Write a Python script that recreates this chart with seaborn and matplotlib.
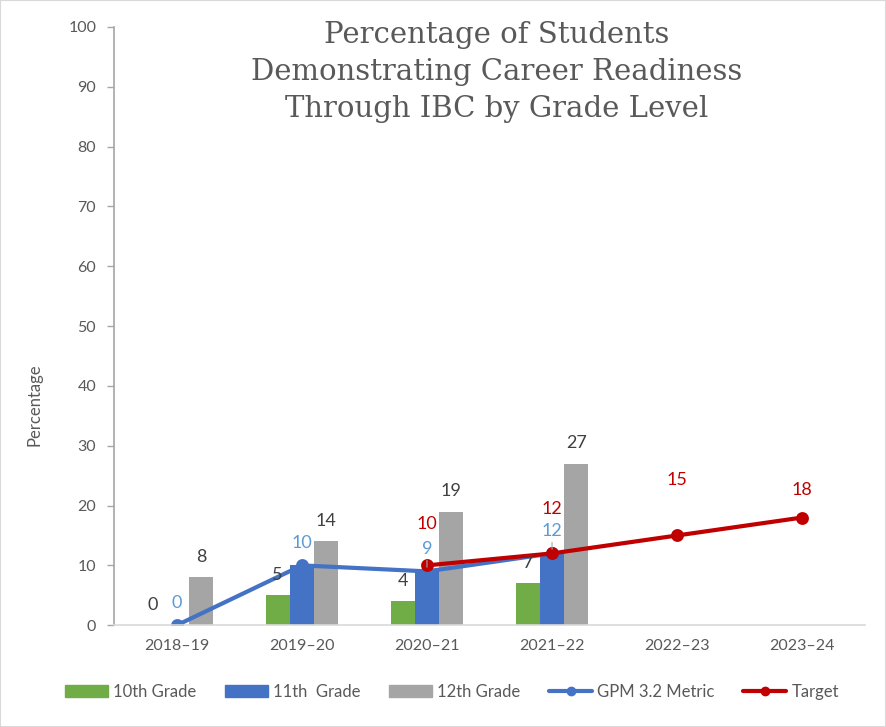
import matplotlib
matplotlib.use('Agg')
import matplotlib.pyplot as plt
import seaborn as sns
import pandas as pd
from matplotlib.patches import Patch, Rectangle
from matplotlib.lines import Line2D

# data
years = ['2018–19', '2019–20', '2020–21', '2021–22', '2022–23', '2023–24']
grades = ['10th Grade', '11th  Grade', '12th Grade']
grade10 = [0, 5, 4, 7]
grade11 = [0, 10, 9, 12]
grade12 = [8, 14, 19, 27]
gpm_years = years[:4]
gpm = [0, 10, 9, 12]
target_years = years[2:]
target = [10, 12, 15, 18]

bar_colors = ['#70AD47', '#4472C4', '#A5A5A5']
gpm_color = '#4472C4'
target_color = '#C00000'
text_gray = '#595959'

bars = pd.DataFrame({
    'year': gpm_years * 3,
    'grade': [grades[0]] * 4 + [grades[1]] * 4 + [grades[2]] * 4,
    'value': grade10 + grade11 + grade12,
})
gpm_df = pd.DataFrame({'year': gpm_years, 'value': gpm})
target_df = pd.DataFrame({'year': target_years, 'value': target})

sns.set_style('white')
plt.rcParams['font.family'] = ['Lato', 'DejaVu Sans']

fig = plt.figure(figsize=(8.86, 7.27), dpi=100)
ax = fig.add_axes([0.129, 0.140, 0.847, 0.823])

sns.barplot(data=bars, x='year', y='value', hue='grade', order=years, hue_order=grades,
            palette=bar_colors, width=0.58, saturation=1, errorbar=None, legend=False,
            linewidth=0, ax=ax)

sns.pointplot(data=gpm_df, x='year', y='value', order=years, color=gpm_color, markers='o',
              markersize=7, linewidth=3, errorbar=None, ax=ax)
sns.pointplot(data=target_df, x='year', y='value', order=years, color=target_color, markers='o',
              markersize=7, linewidth=3, errorbar=None, ax=ax)

# bar labels (10th and 12th grade only)
for idx in [0, 2]:
    ax.bar_label(ax.containers[idx], fmt='%d', padding=9, fontsize=13, color='#404040')

# line labels, the last two blue ones have leader lines in the original
for i, v in enumerate(gpm):
    arrow = dict(arrowstyle='-', color='#A6A6A6', lw=0.8, shrinkA=0, shrinkB=3) if i >= 2 else None
    ax.annotate(str(v), xy=(i, v), xytext=(0, 16), textcoords='offset points',
                ha='center', va='center', fontsize=13, color='#5B9BD5', arrowprops=arrow)
target_offsets = [30, 32, 40, 20]
for i, (v, off) in enumerate(zip(target, target_offsets)):
    ax.annotate(str(v), xy=(i + 2, v), xytext=(0, off), textcoords='offset points',
                ha='center', va='center', fontsize=13, color=target_color)

ax.set_ylim(0, 100)
ax.set_xlim(-0.5, len(years) - 0.5)
ax.set_yticks(range(0, 101, 10))
ax.set_xlabel('')
ax.set_ylabel('Percentage', fontsize=12, color=text_gray)
ax.yaxis.set_label_coords(-0.096, 0.368)
ax.tick_params(axis='y', length=5, width=1, color='#A6A6A6', labelcolor=text_gray, labelsize=11.5, pad=8, left=True)
ax.tick_params(axis='x', length=0, labelcolor=text_gray, labelsize=11.5, pad=10)

for s in ['top', 'right']:
    ax.spines[s].set_visible(False)
ax.spines['left'].set_color('#A6A6A6')
ax.spines['left'].set_linewidth(1.2)
ax.spines['bottom'].set_color('#D9D9D9')
ax.spines['bottom'].set_linewidth(1.2)

fig.text(0.561, 0.971, 'Percentage of Students\nDemonstrating Career Readiness\nThrough IBC by Grade Level',
         ha='center', va='top', fontsize=21, color=text_gray, family='DejaVu Serif', linespacing=1.4)

handles = [Patch(color=c, label=g) for c, g in zip(bar_colors, grades)]
handles.append(Line2D([], [], color=gpm_color, lw=3, marker='o', markersize=6, label='GPM 3.2 Metric'))
handles.append(Line2D([], [], color=target_color, lw=3, marker='o', markersize=6, label='Target'))
fig.legend(handles=handles, loc='center', bbox_to_anchor=(0.51, 0.048), ncol=5, frameon=False,
           fontsize=12, handlelength=2.6, handletextpad=0.3, columnspacing=1.7, labelcolor=text_gray)

fig.patches.append(Rectangle((0, 0), 1, 1, transform=fig.transFigure, fill=False,
                             edgecolor='#D9D9D9', linewidth=1.5))

fig.savefig('out.png', dpi=100)
